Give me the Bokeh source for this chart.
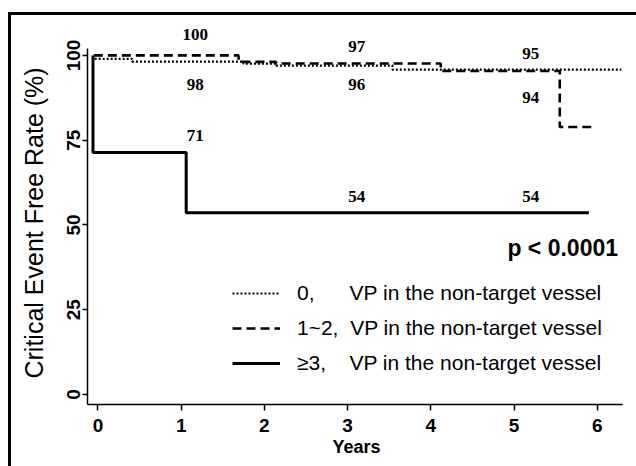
from bokeh.plotting import figure
from bokeh.models import Range1d, FixedTicker, Legend, LegendItem
from bokeh.core.properties import value
from bokeh.embed import file_html
from bokeh.resources import INLINE

# Kaplan-Meier curves (years, % critical-event free)
t_zero = [-0.04, 0.41, 1.75, 2.14, 3.54, 6.29]
s_zero = [99.0, 98.2, 97.6, 97.0, 95.8, 95.8]
t_one_two = [-0.05, 1.69, 2.14, 4.12, 5.55, 5.93]
s_one_two = [100.0, 98.1, 97.6, 95.4, 78.9, 78.9]
t_three = [-0.06, -0.06, 1.06, 5.90]
s_three = [100.0, 71.4, 53.6, 53.6]

# rate annotations at years 1, 3, 5
labels_one_two = ["100", "97", "95"]
labels_zero = ["98", "96", "94"]
labels_three = ["71", "54", "54"]

x_ticks = [0, 1, 2, 3, 4, 5, 6]
y_ticks = [0, 25, 50, 75, 100]

legend_names = ["0,", "1~2,", "\u22653,"]
legend_pad = [6, 2, 4]
legend_suffix = "VP in the non-target vessel"
p_text = "p < 0.0001"
x_title = "Years"
y_title = "Critical Event Free Rate (%)"

# annotation positions (layout only)
lab_x = [1.17, 3.11, 5.20]
lab_y_one_two = [106.2, 102.7, 100.6]
lab_y_zero = [91.4, 91.4, 87.6]
lab_y_three = [76.4, 58.4, 58.4]

p = figure(width=636, height=466,
           x_range=Range1d(-0.126, 6.34), y_range=Range1d(-2.95, 110.3),
           output_backend="svg", toolbar_location=None,
           min_border_left=87, min_border_right=11, min_border_top=20, min_border_bottom=62,
           styles={"box-shadow": "inset 8px 12px 0px 0px white, inset 11px 15px 0px 0px black",
                   "background-color": "white"})
p.outline_line_color = None
p.grid.visible = False
p.background_fill_color = "white"
p.border_fill_alpha = 0

r_zero = p.step(t_zero, s_zero, mode="after", line_color="black", line_width=2.2, line_dash="2 2")
r_one_two = p.step(t_one_two, s_one_two, mode="after", line_color="black", line_width=2.6, line_dash="9 5")
r_three = p.step(t_three, s_three, mode="after", line_color="black", line_width=3)

num_font = value("Liberation Serif")
for labs, ys in ((labels_one_two, lab_y_one_two), (labels_zero, lab_y_zero), (labels_three, lab_y_three)):
    p.text(x=lab_x, y=ys, text=labs, text_font=num_font, text_font_style="bold",
           text_font_size="17px", text_align="center", text_baseline="middle", text_color="black")

p.text(x=[6.25], y=[43.1], text=[p_text], text_font=value("Liberation Sans"), text_font_style="bold",
       text_font_size="23px", text_align="right", text_baseline="middle", text_color="black")

items = []
for name, pad, r in zip(legend_names, legend_pad, (r_zero, r_one_two, r_three)):
    items.append(LegendItem(label=name + "\u00a0" * pad + legend_suffix, renderers=[r]))
legend = Legend(items=items, location=(145, 29), padding=0, margin=0, spacing=11,
                glyph_width=48, glyph_height=24, label_height=24, label_standoff=17,
                label_text_font="Liberation Sans", label_text_font_size="21px",
                label_text_color="black", border_line_color=None, background_fill_alpha=0)
p.add_layout(legend, "center")

for ax in (p.xaxis[0], p.yaxis[0]):
    ax.axis_line_color = "black"
    ax.axis_line_width = 1.5
    ax.major_tick_line_color = "black"
    ax.major_tick_line_width = 1.5
    ax.major_tick_in = 0
    ax.minor_tick_line_color = None
    ax.major_label_text_font = "Liberation Sans"
    ax.major_label_text_font_style = "bold"
    ax.major_label_text_font_size = "19px"
    ax.major_label_text_color = "black"

p.xaxis.ticker = FixedTicker(ticks=x_ticks)
p.xaxis.major_tick_out = 6
p.xaxis.major_label_standoff = 8
p.xaxis.bounds = (-0.126, 6.30)
p.xaxis.axis_label = x_title
p.xaxis.axis_label_text_font = "Liberation Sans"
p.xaxis.axis_label_text_font_style = "bold"
p.xaxis.axis_label_text_font_size = "18px"
p.xaxis.axis_label_text_color = "black"
p.xaxis.axis_label_standoff = 2

p.yaxis.ticker = FixedTicker(ticks=y_ticks)
p.yaxis.major_tick_out = 5
p.yaxis.major_label_standoff = 2
p.yaxis.major_label_orientation = "parallel"
p.yaxis.bounds = (-2.95, 102.1)
# trailing no-break spaces shift the title's visible text toward the axis-line centre
p.yaxis.axis_label = y_title + "\u00a0" * 3
p.yaxis.axis_label_text_font = "Liberation Sans"
p.yaxis.axis_label_text_font_style = "normal"
p.yaxis.axis_label_text_font_size = "25px"
p.yaxis.axis_label_text_color = "black"
p.yaxis.axis_label_standoff = 17

open("out.html", "w").write(file_html(p, INLINE))
